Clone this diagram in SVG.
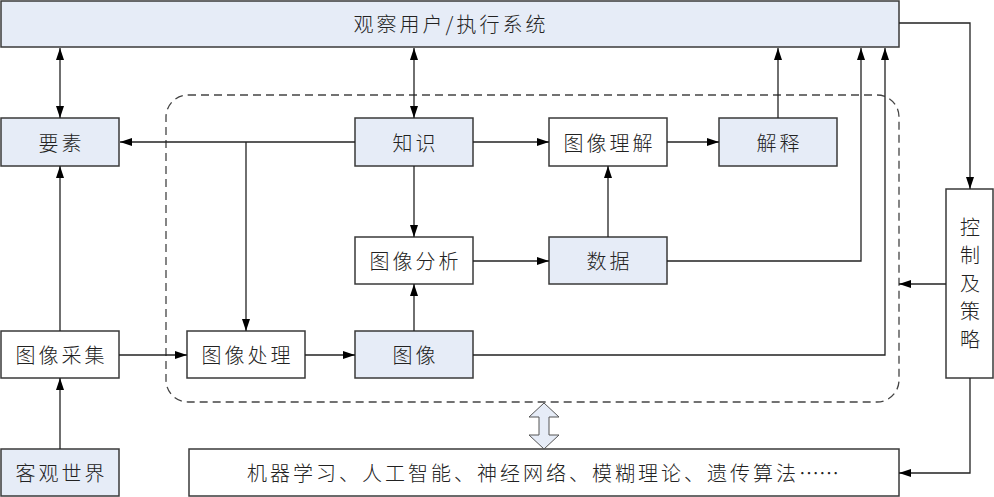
<svg xmlns="http://www.w3.org/2000/svg" width="994" height="497" viewBox="0 0 994 497">
<defs>
<marker id="ah" viewBox="0 0 12 8" refX="12" refY="4" markerWidth="12" markerHeight="8" markerUnits="userSpaceOnUse" orient="auto-start-reverse">
<path d="M0,0 L12,4 L0,8 Z" fill="#000"/>
</marker>
<style>
.b{fill:#e6ecf7;stroke:#3a3a3a;stroke-width:1.5}
.w{fill:#fff;stroke:#3a3a3a;stroke-width:1.5}
.t{font-family:"Noto Sans CJK SC","Noto Sans CJK JP",sans-serif;font-size:20px;fill:#222;text-anchor:middle;dominant-baseline:central;font-weight:300;letter-spacing:3px}
.v{font-family:"Noto Sans CJK SC","Noto Sans CJK JP",sans-serif;font-size:20px;fill:#222;text-anchor:middle;dominant-baseline:central;font-weight:300}
.c{fill:none;stroke:#222;stroke-width:1.3}
</style>
</defs>
<rect x="166" y="95" width="733" height="307" rx="22" ry="22" fill="none" stroke="#444" stroke-width="1.3" stroke-dasharray="8,5"/>
<g id="top"><rect class="b" x="1" y="1" width="898" height="46"/><text class="t" x="451" y="23">观察用户/执行系统</text></g>
<g id="yaosu"><rect class="b" x="1" y="118" width="118" height="48"/><text class="t" x="61.5" y="142">要素</text></g>
<g id="zhishi"><rect class="b" x="355" y="118" width="118" height="48"/><text class="t" x="415.5" y="142">知识</text></g>
<g id="lijie"><rect class="w" x="549" y="118" width="118" height="48"/><text class="t" x="609.5" y="142">图像理解</text></g>
<g id="jieshi"><rect class="b" x="719" y="118" width="118" height="48"/><text class="t" x="779.5" y="142">解释</text></g>
<g id="fenxi"><rect class="w" x="355" y="237" width="118" height="47"/><text class="t" x="415.5" y="260">图像分析</text></g>
<g id="shuju"><rect class="b" x="549" y="237" width="118" height="47"/><text class="t" x="609.5" y="260">数据</text></g>
<g id="caiji"><rect class="w" x="1" y="331" width="118" height="47"/><text class="t" x="61.5" y="354">图像采集</text></g>
<g id="chuli"><rect class="w" x="187" y="331" width="118" height="47"/><text class="t" x="247.5" y="354">图像处理</text></g>
<g id="tuxiang"><rect class="b" x="355" y="331" width="118" height="47"/><text class="t" x="415.5" y="354">图像</text></g>
<g id="shijie"><rect class="b" x="1" y="449" width="118" height="47"/><text class="t" x="61.5" y="472">客观世界</text></g>
<g id="methods"><rect class="w" x="189" y="449" width="710" height="47"/><text class="t" x="543" y="472">机器学习、人工智能、神经网络、模糊理论、遗传算法<tspan letter-spacing="0">……</tspan></text></g>
<g id="kongzhi"><rect class="w" x="946" y="189" width="47" height="189"/>
<text class="v" x="970" y="226">控</text><text class="v" x="970" y="254">制</text><text class="v" x="970" y="282">及</text><text class="v" x="970" y="310">策</text><text class="v" x="970" y="338">略</text></g>
<g id="connectors">
<path class="c" d="M60,48 V118" marker-start="url(#ah)" marker-end="url(#ah)"/>
<path class="c" d="M414,48 V118" marker-start="url(#ah)" marker-end="url(#ah)"/>
<path class="c" d="M355,142 H120" marker-end="url(#ah)"/>
<path class="c" d="M246,142 V331" marker-end="url(#ah)"/>
<path class="c" d="M473,142 H549" marker-end="url(#ah)"/>
<path class="c" d="M667,142 H719" marker-end="url(#ah)"/>
<path class="c" d="M778,118 V48" marker-end="url(#ah)"/>
<path class="c" d="M414,166 V237" marker-end="url(#ah)"/>
<path class="c" d="M473,261 H549" marker-end="url(#ah)"/>
<path class="c" d="M608,237 V166" marker-end="url(#ah)"/>
<path class="c" d="M667,261 H861 V48" marker-end="url(#ah)"/>
<path class="c" d="M473,355 H885 V48" marker-end="url(#ah)"/>
<path class="c" d="M119,355 H187" marker-end="url(#ah)"/>
<path class="c" d="M305,355 H355" marker-end="url(#ah)"/>
<path class="c" d="M414,331 V284" marker-end="url(#ah)"/>
<path class="c" d="M60,449 V378" marker-end="url(#ah)"/>
<path class="c" d="M60,331 V166" marker-end="url(#ah)"/>
<path class="c" d="M899,23 H970 V189" marker-end="url(#ah)"/>
<path class="c" d="M946,284 H899" marker-end="url(#ah)"/>
<path class="c" d="M970,378 V473 H899" marker-end="url(#ah)"/>
<path d="M544,403 L559,417 L549,417 L549,435 L559,435 L544,449 L529,435 L539,435 L539,417 L529,417 Z" fill="#e6ecf7" stroke="#555" stroke-width="1"/>
</g>
</svg>
